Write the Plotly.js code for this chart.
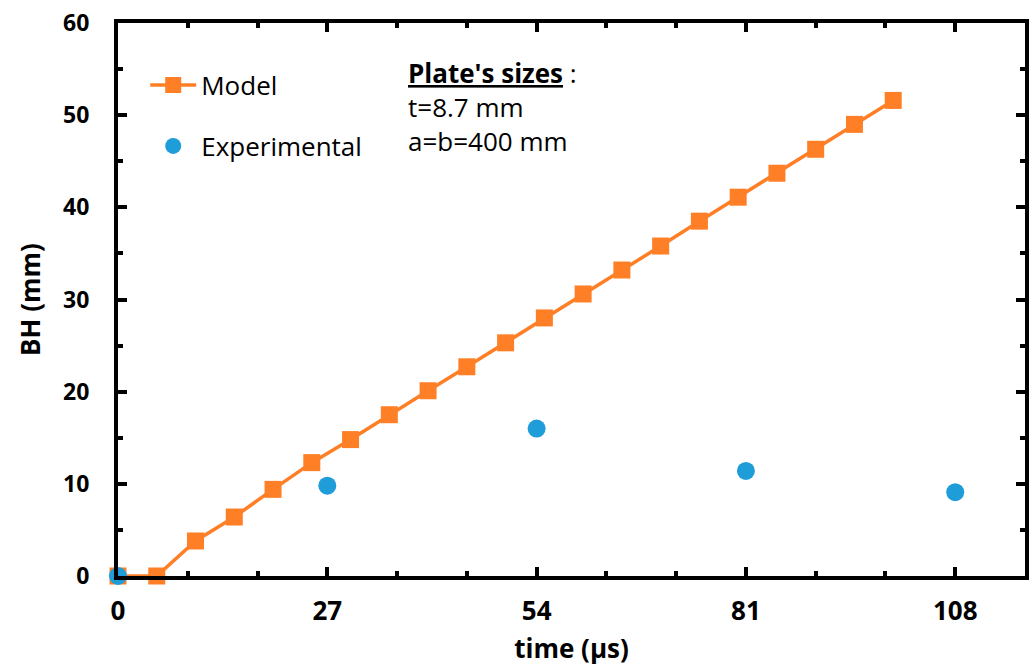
<!DOCTYPE html>
<html>
<head>
<meta charset="utf-8">
<script src="https://cdn.plot.ly/plotly-3.0.1.min.js"></script>
<style>html,body{margin:0;padding:0;background:#fff;}#chart{width:1035px;height:668px;}</style>
</head>
<body>
<div id="chart"></div>
<script>
const modelTime = [0,5,10,15,20,25,30,35,40,45,50,55,60,65,70,75,80,85,90,95,100];
const modelBH = [0,0,3.8,6.4,9.4,12.3,14.8,17.5,20.1,22.7,25.3,28.0,30.6,33.2,35.8,38.5,41.1,43.7,46.3,49.0,51.6];
const expTime = [0,27,54,81,108];
const expBH = [0,9.8,16.0,11.4,9.1];
const xTicks = [0,27,54,81,108];
const yTicks = [0,10,20,30,40,50,60];

const FONT = '"Open Sans", sans-serif';
const traces = [
  {x: modelTime, y: modelBH, name: 'Model', mode: 'lines+markers', type: 'scatter',
   legendgroup: 'a', cliponaxis: false,
   line: {color: '#FF7F27', width: 3.5},
   marker: {symbol: 'square', size: 17, color: '#FF7F27'}},
  {x: expTime, y: expBH, name: 'Experimental', mode: 'markers', type: 'scatter',
   legendgroup: 'b', cliponaxis: false,
   marker: {symbol: 'circle', size: 18, color: '#1E9DD9'}}
];
const axisCommon = {
  showline: true, linecolor: '#000', linewidth: 4, mirror: 'ticks',
  ticks: 'inside', ticklen: 9, tickwidth: 4, tickcolor: '#000',
  showgrid: false, zeroline: false
};
const layout = {
  width: 1035, height: 668,
  margin: {l: 118, r: 10, t: 23, b: 92},
  paper_bgcolor: '#fff', plot_bgcolor: '#fff',
  showlegend: true,
  legend: {x: 0.03, y: 0.93, xanchor: 'left', yanchor: 'top', bgcolor: 'rgba(0,0,0,0)',
           font: {family: FONT, size: 26, color: '#000'}, tracegroupgap: 24, itemwidth: 46},
  xaxis: Object.assign({}, axisCommon, {
    range: [0, 117], tickvals: xTicks, ticktext: xTicks.map(String),
    tickfont: {family: FONT, size: 26, color: '#000', weight: 'bold'},
    ticklabelstandoff: 9,
    minor: {dtick: 9, tick0: 0, ticks: 'inside', ticklen: 5, tickwidth: 4, tickcolor: '#000'},
    title: {text: 'time (µs)', font: {family: FONT, size: 26, color: '#000', weight: 'bold'}, standoff: 14}
  }),
  yaxis: Object.assign({}, axisCommon, {
    range: [0, 60], tickvals: yTicks, ticktext: yTicks.map(String),
    tickfont: {family: FONT, size: 23, color: '#000', weight: 'bold'},
    ticklabelstandoff: 20,
    minor: {dtick: 5, tick0: 0, ticks: 'inside', ticklen: 5, tickwidth: 4, tickcolor: '#000'},
    title: {text: 'BH (mm)', font: {family: FONT, size: 26, color: '#000', weight: 'bold'}, standoff: 16}
  }),
  annotations: [{
    xref: 'paper', yref: 'paper', x: 0.318, y: 0.945, xanchor: 'left', yanchor: 'top',
    align: 'left', showarrow: false,
    text: "<b><u>Plate's sizes</u></b> :<br>t=8.7 mm<br>a=b=400 mm",
    font: {family: FONT, size: 26, color: '#000'}
  }]
};
Plotly.newPlot('chart', traces, layout, {displayModeBar: false, staticPlot: true});
</script>
</body>
</html>
